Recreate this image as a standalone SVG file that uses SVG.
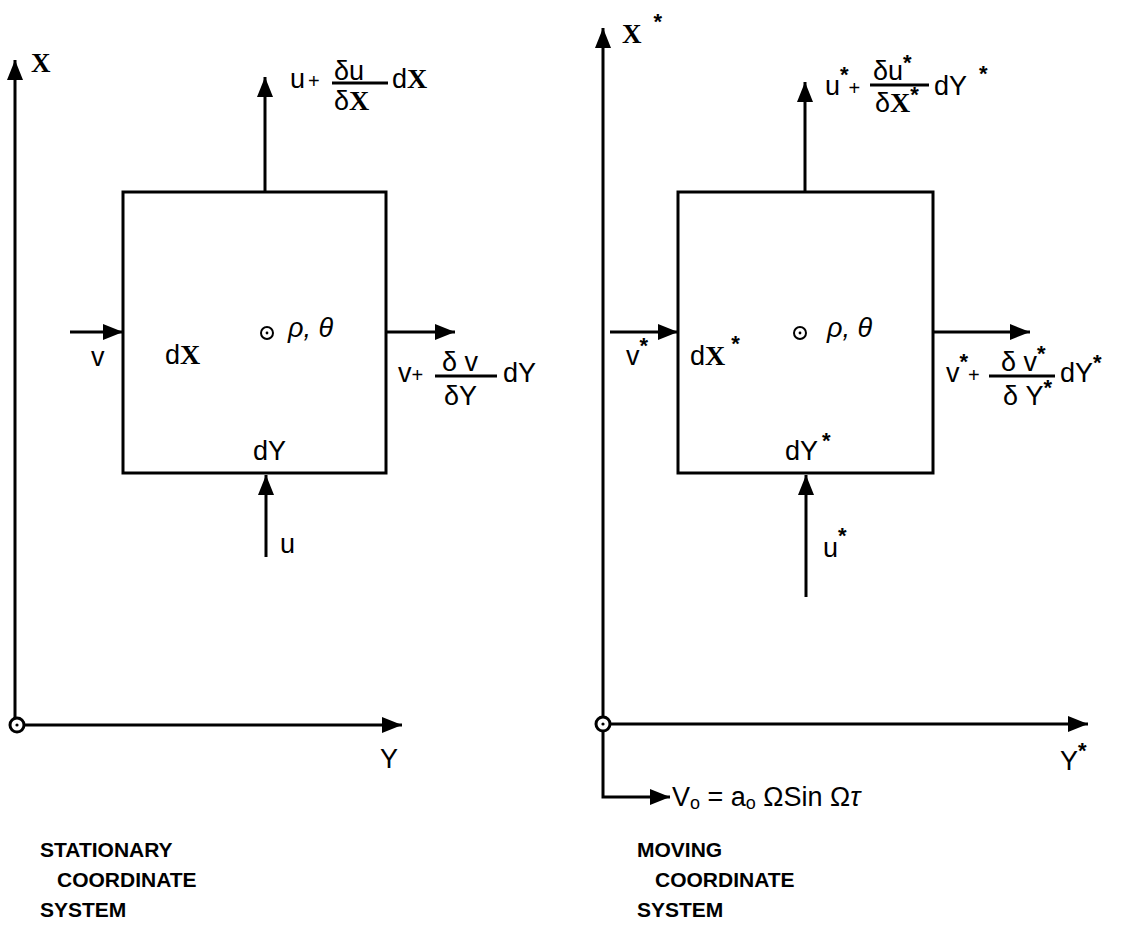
<svg xmlns="http://www.w3.org/2000/svg" width="1134" height="940" viewBox="0 0 1134 940">
<style>
.ln{stroke:#000;stroke-width:3;fill:none}
.ar{stroke:#000;stroke-width:3;fill:none;marker-end:url(#ah)}
.t{font-family:"Liberation Sans",Arial,sans-serif;font-size:27px;fill:#000}
.bx{font-family:"Liberation Serif","Times New Roman",serif;font-weight:bold}
.st{font-family:"Liberation Sans",Arial,sans-serif;font-weight:bold;font-size:22px}
.pl{font-size:20px}
.it{font-style:italic}
.cap{font-family:"Liberation Sans",Arial,sans-serif;font-size:21px;font-weight:bold;fill:#000}
.org{stroke:#000;stroke-width:3;fill:#fff}
</style>
<defs>
<marker id="ah" markerUnits="userSpaceOnUse" markerWidth="22" markerHeight="18" refX="20" refY="8" orient="auto">
<path d="M0,0 L20,8 L0,16 z" fill="#000"/>
</marker>
</defs>
<g id="connectors">
<line class="ar" x1="15" y1="718" x2="15" y2="60"/>
<line class="ar" x1="24" y1="725" x2="402" y2="725"/>
<line class="ar" x1="265" y1="192" x2="265" y2="77"/>
<line class="ar" x1="70" y1="332" x2="123" y2="332"/>
<line class="ar" x1="386" y1="332" x2="455" y2="332"/>
<line class="ar" x1="266" y1="557" x2="266" y2="475"/>
<line class="ar" x1="603" y1="717" x2="603" y2="28"/>
<line class="ar" x1="610" y1="724" x2="1088" y2="724"/>
<polyline class="ar" points="603,731 603,797 670,797"/>
<line class="ar" x1="805" y1="192" x2="805" y2="82"/>
<line class="ar" x1="610" y1="332" x2="678" y2="332"/>
<line class="ar" x1="933" y1="332" x2="1030" y2="332"/>
<line class="ar" x1="806" y1="597" x2="806" y2="475"/>
</g>
<g id="stationary-system">
<g id="origin-left"><circle class="org" cx="17" cy="725" r="7"/><circle cx="17" cy="725" r="1.6"/></g>
<text class="t bx" x="31" y="72" font-size="28">X</text>
<text class="t" x="380" y="768">Y</text>
</g>
<g id="element-left">
<rect class="ln" x="123" y="192" width="263" height="281"/>
<text class="t" x="91" y="366">v</text>
<text class="t" x="165" y="364">d<tspan class="bx" font-size="28">X</tspan></text>
<circle cx="267" cy="333" r="6" fill="none" stroke="#000" stroke-width="2"/><circle cx="267" cy="333" r="1.4"/>
<text class="t it" x="288" y="337">ρ, θ</text>
<text class="t" x="253" y="460">dY</text>
<text class="t" x="280" y="553">u</text>
<text class="t" x="290" y="88">u<tspan class="pl" dx="3">+</tspan></text>
<text class="t" x="334" y="80">δu</text>
<line class="ln" x1="332" y1="83" x2="388" y2="83"/>
<text class="t" x="334" y="110">δ<tspan class="bx" font-size="28">X</tspan></text>
<text class="t" x="392" y="88">d<tspan class="bx" font-size="28">X</tspan></text>
<text class="t" x="398" y="382">v<tspan class="pl">+</tspan></text>
<text class="t" x="442" y="371">δ v</text>
<line class="ln" x1="435" y1="376" x2="497" y2="376"/>
<text class="t" x="444" y="405">δY</text>
<text class="t" x="503" y="382">dY</text>
</g>
<g id="moving-system">
<g id="origin-right"><circle class="org" cx="603" cy="724" r="7"/><circle cx="603" cy="724" r="1.6"/></g>
<text class="t bx" x="622" y="43" font-size="28">X<tspan class="st" dx="12" dy="-14">*</tspan></text>
<text class="t" x="1060" y="770">Y<tspan class="st" dy="-12">*</tspan></text>
<text class="t" x="672" y="806">V<tspan font-size="18" dy="3">o</tspan><tspan dy="-3"> = a</tspan><tspan font-size="18" dy="3">o</tspan><tspan dy="-3"> ΩSin Ω</tspan><tspan class="it">τ</tspan></text>
</g>
<g id="element-right">
<rect class="ln" x="678" y="192" width="255" height="281"/>
<text class="t" x="626" y="365">v<tspan class="st" dy="-12">*</tspan></text>
<text class="t" x="690" y="365">d<tspan class="bx" font-size="28">X</tspan><tspan class="st" dx="6" dy="-14">*</tspan></text>
<circle cx="800" cy="333" r="6" fill="none" stroke="#000" stroke-width="2"/><circle cx="800" cy="333" r="1.4"/>
<text class="t it" x="827" y="337">ρ, θ</text>
<text class="t" x="785" y="460">dY<tspan class="st" dx="4" dy="-12">*</tspan></text>
<text class="t" x="823" y="557">u<tspan class="st" dy="-14">*</tspan></text>
<text class="t" x="825" y="95">u<tspan class="st" dy="-13">*</tspan><tspan class="pl" dy="13">+</tspan></text>
<text class="t" x="873" y="80">δu<tspan class="st" dy="-10">*</tspan></text>
<line class="ln" x1="870" y1="85" x2="929" y2="85"/>
<text class="t" x="875" y="112">δ<tspan class="bx" font-size="28">X</tspan><tspan class="st" dy="-10">*</tspan></text>
<text class="t" x="934" y="95">dY<tspan class="st" dx="12" dy="-14">*</tspan></text>
<text class="t" x="946" y="382">v<tspan class="st" dy="-13">*</tspan><tspan class="pl" dy="13">+</tspan></text>
<text class="t" x="1001" y="371">δ v<tspan class="st" dy="-10">*</tspan></text>
<line class="ln" x1="989" y1="376" x2="1055" y2="376"/>
<text class="t" x="1003" y="405">δ Y<tspan class="st" dy="-10">*</tspan></text>
<text class="t" x="1060" y="382">dY<tspan class="st" dy="-12">*</tspan></text>
</g>
<g id="captions">
<text class="cap" x="40" y="857">STATIONARY</text>
<text class="cap" x="57" y="887">COORDINATE</text>
<text class="cap" x="40" y="917">SYSTEM</text>
<text class="cap" x="637" y="857">MOVING</text>
<text class="cap" x="655" y="887">COORDINATE</text>
<text class="cap" x="637" y="917">SYSTEM</text>
</g>
</svg>
